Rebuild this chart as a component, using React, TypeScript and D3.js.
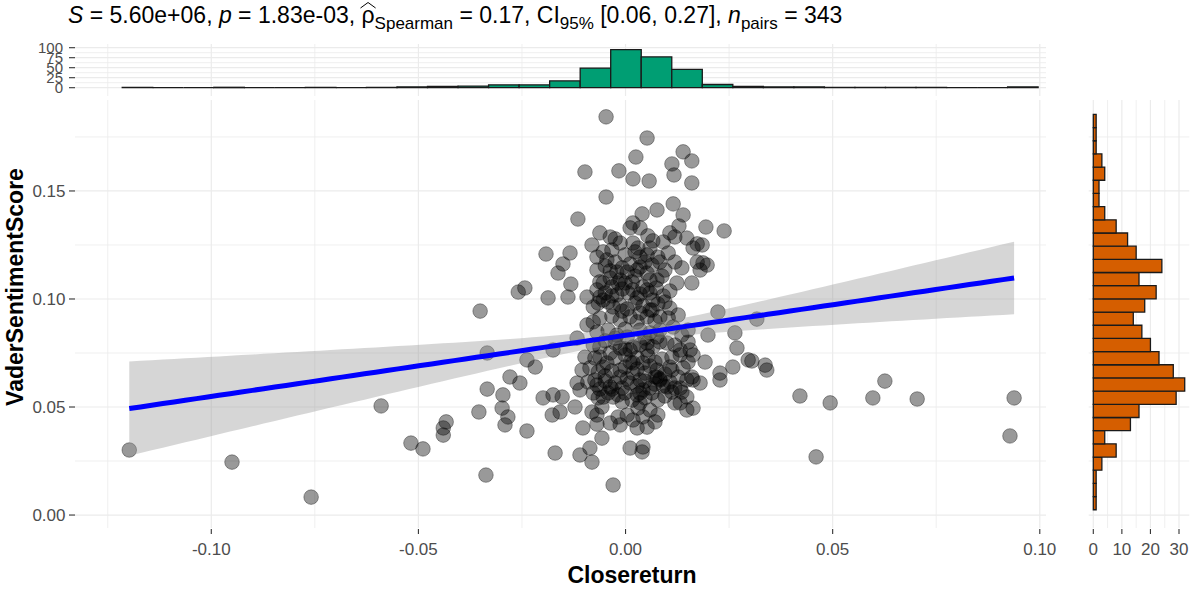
import React, { useLayoutEffect, useRef, useState } from "react";
import * as d3 from "d3";

// ---- data: [Closereturn, VaderSentimentScore] ----
const points: [number, number][] = [
  [-0.1198,0.0301],[-0.0950,0.0245],[-0.0759,0.0083],[-0.0590,0.0505],[-0.0518,0.0333],[-0.0489,0.0306],
  [-0.0440,0.0370],[-0.0440,0.0403],[-0.0433,0.0431],[-0.0354,0.0477],[-0.0334,0.0583],[-0.0337,0.0185],
  [-0.0334,0.0750],[-0.0351,0.0944],[-0.0296,0.0556],[-0.0298,0.0495],[-0.0284,0.0454],[-0.0291,0.0417],
  [-0.0279,0.0639],[-0.0255,0.0611],[-0.0238,0.0718],[-0.0218,0.0685],[-0.0238,0.0389],[-0.0199,0.0542],
  [-0.0175,0.0556],[-0.0153,0.0546],[-0.0177,0.0463],[-0.0158,0.0477],[-0.0122,0.0500],[-0.0110,0.0579],
  [-0.0103,0.0403],[-0.0081,0.0477],[-0.0057,0.0500],[-0.0069,0.0463],[-0.0037,0.0426],[-0.0018,0.0454],
  [0.0004,0.0463],[0.0030,0.0495],[0.0042,0.0454],[0.0052,0.0407],[0.0078,0.0463],[0.0035,0.0519],
  [-0.0057,0.0356],[-0.0086,0.0310],[-0.0110,0.0278],[-0.0081,0.0245],[-0.0170,0.0287],[0.0042,0.0315],
  [0.0040,0.0292],[-0.0030,0.0139],[0.0132,0.0519],[0.0148,0.0486],[0.0136,0.0569],[0.0100,0.0593],
  [0.0160,0.0639],[0.0192,0.0708],[0.0151,0.0801],[0.0199,0.0833],[0.0223,0.0940],[0.0264,0.0843],
  [0.0269,0.0773],[0.0259,0.0685],[0.0228,0.0657],[0.0228,0.0625],[0.0296,0.0718],[0.0107,0.0958],
  [0.0151,0.0856],[0.0132,0.0741],[0.0163,0.0741],[0.0064,0.0949],[0.0035,0.0935],[0.0076,0.1088],
  [0.0124,0.1074],[0.0160,0.1074],[-0.0001,0.1074],[-0.0033,0.1056],[-0.0054,0.0995],[-0.0093,0.0880],
  [-0.0117,0.0611],[-0.0074,0.0727],[-0.0045,0.0704],[-0.0013,0.0671],[0.0018,0.0704],[0.0035,0.0625],
  [0.0076,0.0671],[0.0083,0.0625],[0.0112,0.0731],[0.0148,0.0625],[0.0052,0.0796],[0.0018,0.0778],
  [-0.0013,0.0773],[-0.0037,0.0750],[-0.0062,0.0778],[0.0004,0.0824],[0.0035,0.0856],[0.0100,0.0796],
  [0.0115,0.0870],[0.0076,0.0824],[0.0136,0.0833],[0.0156,0.0764],[-0.0047,0.1843],[0.0052,0.1745],
  [0.0025,0.1657],[0.0139,0.1681],[0.0160,0.1639],[0.0112,0.1625],[0.0117,0.1574],[0.0160,0.1537],
  [-0.0098,0.1588],[-0.0016,0.1593],[0.0018,0.1556],[0.0057,0.1546],[-0.0047,0.1472],[-0.0115,0.1370],
  [0.0115,0.1440],[0.0076,0.1412],[0.0040,0.1394],[0.0139,0.1389],[0.0129,0.1338],[0.0194,0.1333],
  [0.0238,0.1315],[-0.0062,0.1306],[0.0011,0.1329],[0.0035,0.1329],[0.0018,0.1352],[-0.0192,0.1208],
  [-0.0134,0.1213],[-0.0151,0.1162],[-0.0163,0.1120],[-0.0132,0.1069],[-0.0243,0.1051],[-0.0259,0.1032],
  [-0.0081,0.1250],[-0.0037,0.1287],[-0.0013,0.1259],[0.0066,0.1269],[0.0107,0.1306],[0.0119,0.1287],
  [0.0148,0.1282],[0.0173,0.1255],[0.0163,0.1236],[0.0103,0.1213],[0.0083,0.1171],[0.0078,0.1194],
  [0.0136,0.1144],[0.0173,0.1171],[0.0197,0.1157],[0.0180,0.1134],[-0.0069,0.1194],[-0.0045,0.1181],
  [-0.0069,0.1134],[-0.0021,0.1125],[0.0004,0.1125],[0.0018,0.1259],[0.0030,0.1236],[0.0052,0.1204],
  [0.0035,0.1148],[0.0052,0.1120],[-0.0013,0.1088],[0.0016,0.1079],[0.0042,0.1056],[-0.0062,0.1079],
  [-0.0093,0.1009],[-0.0139,0.1009],[-0.0187,0.1005],[-0.0078,0.0894],[-0.0117,0.0819],[-0.0175,0.0764],
  [-0.0078,0.0963],[-0.0054,0.1074],[-0.0021,0.1019],[0.0028,0.1005],[0.0066,0.0995],[0.0052,0.1042],
  [-0.0030,0.0963],[0.0052,0.0917],[0.0083,0.0917],[-0.0098,0.0731],[-0.0105,0.0671],[-0.0001,0.0565],
  [0.0035,0.0565],[0.0076,0.0639],[0.0042,0.0704],[0.0052,0.0764],[0.0011,0.0764],[-0.0054,0.0685],
  [-0.0074,0.0625],[-0.0037,0.0593],[0.0132,0.0764],[0.0151,0.0708],[0.0163,0.0625],[0.0132,0.0588],
  [0.0148,0.0546],[0.0163,0.0495],[0.0119,0.0519],[0.0127,0.0639],[0.0107,0.0685],[0.0018,0.0657],
  [-0.0013,0.0639],[-0.0078,0.0565],[-0.0054,0.0546],[-0.0030,0.0546],[0.0317,0.0907],[0.0185,0.1250],
  [0.0187,0.1167],[0.0305,0.0713],[0.0337,0.0694],[0.0341,0.0671],[0.0180,0.0611],[0.0421,0.0551],
  [0.0494,0.0519],[0.0460,0.0269],[0.0597,0.0542],[0.0626,0.0620],[0.0704,0.0537],[0.0938,0.0542],
  [0.0928,0.0366],
  [-0.0025,0.1278],[0.0054,0.1292],[0.0091,0.1264],
  [-0.0033,0.1227],[-0.0001,0.1204],[0.0023,0.1218],[0.0059,0.1236],[0.0035,0.1194],[-0.0054,0.1218],
  [-0.0049,0.1153],[-0.0025,0.1171],[-0.0008,0.1144],[0.0011,0.1162],[0.0028,0.1134],[0.0064,0.1157],
  [0.0047,0.1171],[0.0095,0.1134],[-0.0037,0.1130],[0.0119,0.1171],
  [-0.0037,0.1097],[-0.0018,0.1074],[0.0023,0.1106],[0.0059,0.1088],[0.0088,0.1106],
  [-0.0069,0.1042],[-0.0049,0.1028],[-0.0033,0.1014],[-0.0008,0.1046],[0.0006,0.1028],[0.0018,0.1042],
  [0.0035,0.1023],[0.0059,0.1028],[0.0074,0.1051],[0.0091,0.1014],[0.0107,0.1037],[-0.0062,0.1009],
  [-0.0066,0.0981],[-0.0042,0.0986],[-0.0013,0.0972],[0.0004,0.0954],[0.0023,0.0981],[0.0042,0.0968],
  [0.0059,0.0949],[0.0078,0.0977],[0.0095,0.0986],[-0.0008,0.0944],
  [-0.0062,0.0912],[-0.0033,0.0921],[-0.0013,0.0903],[0.0011,0.0917],[0.0028,0.0894],[0.0071,0.0898],
  [0.0103,0.0912],[0.0127,0.0926],
  [-0.0069,0.0847],[-0.0042,0.0856],[-0.0021,0.0833],[-0.0001,0.0861],[0.0059,0.0843],[0.0083,0.0856],
  [0.0047,0.0819],[-0.0025,0.0819],
  [-0.0078,0.0787],[-0.0049,0.0806],[-0.0025,0.0796],[0.0035,0.0787],[0.0066,0.0778],[0.0083,0.0801],
  [0.0119,0.0787],[-0.0001,0.0769],
  [-0.0062,0.0731],[-0.0025,0.0727],[-0.0001,0.0741],[0.0028,0.0727],[0.0054,0.0736],[0.0071,0.0708],
  [0.0088,0.0722],[0.0011,0.0708],
  [-0.0086,0.0681],[-0.0066,0.0662],[-0.0033,0.0667],[-0.0001,0.0685],[0.0028,0.0676],[0.0047,0.0657],
  [0.0059,0.0690],[0.0095,0.0653],[0.0112,0.0671],[0.0139,0.0681],[-0.0049,0.0644],[0.0071,0.0639],
  [-0.0091,0.0616],[-0.0069,0.0602],[-0.0049,0.0620],[-0.0025,0.0611],[-0.0008,0.0588],[0.0011,0.0611],
  [0.0028,0.0597],[0.0047,0.0620],[0.0059,0.0588],[0.0071,0.0606],[0.0091,0.0597],[0.0107,0.0616],
  [0.0119,0.0588],[-0.0062,0.0583],[0.0004,0.0630],[0.0042,0.0579],[0.0083,0.0630],[-0.0033,0.0583],
  [-0.0066,0.0542],[-0.0042,0.0565],[-0.0018,0.0556],[0.0016,0.0532],[0.0028,0.0556],[0.0047,0.0542],
  [0.0064,0.0565],[0.0078,0.0532],[0.0095,0.0551],[0.0112,0.0569],[-0.0008,0.0523],
  [0.0059,0.0486],
  [-0.0013,0.0417],[0.0018,0.0440],[0.0071,0.0431],[0.0028,0.0403],[-0.0069,0.0421],
  [0.0011,0.0310],
];

// marginal histogram of Closereturn (30 bins, left to right)
const topHistStart = -0.1215;
const topHistBinWidth = 0.00737;
const topHistCounts = [1,0,0,1,0,0,1,0,1,2,3,4,7,7,17,49,95,77,46,8,3,2,2,1,1,1,1,0,0,2];

// marginal histogram of VaderSentimentScore (30 bins, bottom to top)
const rightHistStart = 0.00245;
const rightHistBinWidth = 0.0061;
const rightHistCounts = [1,1,1,3,8,4,13,16,29,32,28,23,20,17,14,18,22,16,24,15,12,8,4,2,2,4,3,1,1,1];

const xMajorTicks = [-0.1, -0.05, 0, 0.05, 0.1];
const xMinorTicks = [-0.125, -0.075, -0.025, 0.025, 0.075];
const yMajorTicks = [0, 0.05, 0.1, 0.15];
const yMinorTicks = [0.025, 0.075, 0.125, 0.175];
const topMajorTicks = [0, 25, 50, 75, 100];
const topMinorTicks = [12.5, 37.5, 62.5, 87.5];
const rightMajorTicks = [0, 10, 20, 30];
const rightMinorTicks = [5, 15, 25];

const xTitle = "Closereturn";
const yTitle = "VaderSentimentScore";

const FONT = "'Liberation Sans', Arial, sans-serif";
const GRID = "#EBEBEB";
const TICKTXT = "#4D4D4D";

const fmt2 = (v: number) => d3.format(".2f")(v).replace("\u2212", "-");

export default function App() {
  const W = 1192, H = 592;
  const panel = { l: 75, r: 1046, t: 100, b: 528 };
  const topPanel = { t: 44, b: 96 };
  const rightPanel = { l: 1088.7, r: 1189.3 };

  const x = d3.scaleLinear().domain([-0.1329, 0.1015]).range([panel.l, panel.r]);
  const y = d3.scaleLinear().domain([-0.006, 0.1921]).range([panel.b, panel.t]);
  const topY = d3.scaleLinear().domain([0, 100]).range([87.7, 47.7]);
  const rightX = d3.scaleLinear().domain([0, 30]).range([1093.3, 1179]);

  // linear fit + 95% CI
  const n = points.length;
  const mx = d3.mean(points, (d) => d[0]) as number;
  const my = d3.mean(points, (d) => d[1]) as number;
  const sxx = d3.sum(points, (d) => (d[0] - mx) ** 2);
  const sxy = d3.sum(points, (d) => (d[0] - mx) * (d[1] - my));
  const slope = sxy / sxx;
  const icpt = my - slope * mx;
  const s2 = d3.sum(points, (d) => (d[1] - icpt - slope * d[0]) ** 2) / (n - 2);
  const tq = 1.967;
  const [xmin, xmax] = d3.extent(points, (d) => d[0]) as [number, number];
  const grid = d3.range(80).map((i) => xmin + (i * (xmax - xmin)) / 79);
  const fit = grid.map((gx) => {
    const f = icpt + slope * gx;
    const se = Math.sqrt(s2 * (1 / n + (gx - mx) ** 2 / sxx));
    return { x: gx, f, lo: f - tq * se, hi: f + tq * se };
  });
  const area = d3.area<any>().x((d) => x(d.x)).y0((d) => y(d.lo)).y1((d) => y(d.hi));
  const line = d3.line<any>().x((d) => x(d.x)).y((d) => y(d.f));

  const titleRef = useRef<SVGTextElement>(null);
  const [hat, setHat] = useState<{ x: number; w: number } | null>(null);
  useLayoutEffect(() => {
    const t = titleRef.current;
    if (!t) return;
    const full = t.textContent || "";
    const idx = full.indexOf("ρ");
    if (idx < 0) return;
    try {
      const s = t.getStartPositionOfChar(idx);
      const e = t.getEndPositionOfChar(idx);
      setHat({ x: s.x, w: e.x - s.x });
    } catch (err) {}
  }, []);

  const tickLen = 5;

  return (
    <svg width={W} height={H} style={{ position: "absolute", left: 0, top: 0, background: "#fff" }} fontFamily={FONT}>
      <rect width={W} height={H} fill="#fff" />

      {/* title */}
      <text ref={titleRef} x={68} y={23} fontSize={23} fill="#000">
        <tspan fontStyle="italic">S</tspan>
        <tspan>{" = 5.60e+06, "}</tspan>
        <tspan fontStyle="italic">p</tspan>
        <tspan>{" = 1.83e-03, ρ"}</tspan>
        <tspan dy={6} fontSize={17}>Spearman</tspan>
        <tspan dy={-6}>{" = 0.17, CI"}</tspan>
        <tspan dy={6} fontSize={17}>95%</tspan>
        <tspan dy={-6}>{" [0.06, 0.27], "}</tspan>
        <tspan fontStyle="italic">n</tspan>
        <tspan dy={6} fontSize={17}>pairs</tspan>
        <tspan dy={-6}>{" = 343"}</tspan>
      </text>
      {hat && (
        <path
          d={`M${hat.x - 1},${8} L${hat.x + hat.w / 2},${2.5} L${hat.x + hat.w + 1},${8}`}
          fill="none"
          stroke="#000"
          strokeWidth={1}
        />
      )}

      {/* top marginal panel grid */}
      {topMinorTicks.map((v) => (
        <line key={"tmn" + v} x1={panel.l} x2={panel.r} y1={topY(v)} y2={topY(v)} stroke={GRID} strokeWidth={0.8} />
      ))}
      {topMajorTicks.map((v) => (
        <line key={"tmj" + v} x1={panel.l} x2={panel.r} y1={topY(v)} y2={topY(v)} stroke={GRID} strokeWidth={1.2} />
      ))}
      {xMinorTicks.map((v) => (
        <line key={"txm" + v} x1={x(v)} x2={x(v)} y1={topPanel.t} y2={topPanel.b} stroke={GRID} strokeWidth={0.8} />
      ))}
      {xMajorTicks.map((v) => (
        <line key={"txj" + v} x1={x(v)} x2={x(v)} y1={topPanel.t} y2={topPanel.b} stroke={GRID} strokeWidth={1.2} />
      ))}

      {/* main panel grid */}
      {yMinorTicks.map((v) => (
        <line key={"ymn" + v} x1={panel.l} x2={panel.r} y1={y(v)} y2={y(v)} stroke={GRID} strokeWidth={0.8} />
      ))}
      {yMajorTicks.map((v) => (
        <line key={"ymj" + v} x1={panel.l} x2={panel.r} y1={y(v)} y2={y(v)} stroke={GRID} strokeWidth={1.2} />
      ))}
      {xMinorTicks.map((v) => (
        <line key={"xmn" + v} x1={x(v)} x2={x(v)} y1={panel.t} y2={panel.b} stroke={GRID} strokeWidth={0.8} />
      ))}
      {xMajorTicks.map((v) => (
        <line key={"xmj" + v} x1={x(v)} x2={x(v)} y1={panel.t} y2={panel.b} stroke={GRID} strokeWidth={1.2} />
      ))}

      {/* right marginal panel grid */}
      {yMinorTicks.map((v) => (
        <line key={"rymn" + v} x1={rightPanel.l} x2={rightPanel.r} y1={y(v)} y2={y(v)} stroke={GRID} strokeWidth={0.8} />
      ))}
      {yMajorTicks.map((v) => (
        <line key={"rymj" + v} x1={rightPanel.l} x2={rightPanel.r} y1={y(v)} y2={y(v)} stroke={GRID} strokeWidth={1.2} />
      ))}
      {rightMinorTicks.map((v) => (
        <line key={"rxmn" + v} x1={rightX(v)} x2={rightX(v)} y1={panel.t} y2={panel.b} stroke={GRID} strokeWidth={0.8} />
      ))}
      {rightMajorTicks.map((v) => (
        <line key={"rxmj" + v} x1={rightX(v)} x2={rightX(v)} y1={panel.t} y2={panel.b} stroke={GRID} strokeWidth={1.2} />
      ))}

      {/* top histogram */}
      {topHistCounts.map((c, i) => {
        const x0 = x(topHistStart + i * topHistBinWidth);
        const x1 = x(topHistStart + (i + 1) * topHistBinWidth);
        const y0 = topY(0);
        const y1 = topY(c);
        return (
          <path key={"th" + i} d={`M${x0},${y0}H${x1}V${y1}H${x0}Z`} fill="#009E73" stroke="#1A1A1A" strokeWidth={1.3} />
        );
      })}

      {/* right histogram */}
      {rightHistCounts.map((c, i) => {
        const y0 = y(rightHistStart + i * rightHistBinWidth);
        const y1 = y(rightHistStart + (i + 1) * rightHistBinWidth);
        const x0 = rightX(0);
        const x1 = rightX(c);
        return (
          <path key={"rh" + i} d={`M${x0},${y0}V${y1}H${x1}V${y0}Z`} fill="#D55E00" stroke="#1A1A1A" strokeWidth={1.3} />
        );
      })}

      {/* points */}
      {points.map((p, i) => (
        <circle key={"pt" + i} cx={x(p[0])} cy={y(p[1])} r={7.3} fill="rgba(0,0,0,0.4)" stroke="rgba(0,0,0,0.35)" strokeWidth={1} />
      ))}

      {/* smooth */}
      <path d={area(fit) || ""} fill="#999999" fillOpacity={0.4} />
      <path d={line(fit) || ""} fill="none" stroke="#0000FF" strokeWidth={5} />

      {/* axes: main y */}
      {yMajorTicks.map((v) => (
        <g key={"yt" + v}>
          <line x1={panel.l - 6} x2={panel.l} y1={y(v)} y2={y(v)} stroke="#333" strokeWidth={1.1} />
          <text x={panel.l - 9.5} y={y(v)} dy="0.36em" textAnchor="end" fontSize={17} fill={TICKTXT}>
            {fmt2(v)}
          </text>
        </g>
      ))}
      {/* top hist y */}
      {topMajorTicks.map((v) => (
        <g key={"tyt" + v}>
          <line x1={panel.l - 6} x2={panel.l} y1={topY(v)} y2={topY(v)} stroke="#333" strokeWidth={1.1} />
          <text x={panel.l - 12} y={topY(v)} dy="0.36em" textAnchor="end" fontSize={15} fill={TICKTXT}>
            {String(v)}
          </text>
        </g>
      ))}
      {/* main x */}
      {xMajorTicks.map((v) => (
        <g key={"xt" + v}>
          <line x1={x(v)} x2={x(v)} y1={panel.b + 1} y2={panel.b + 1 + tickLen} stroke="#333" strokeWidth={1.1} />
          <text x={x(v)} y={555} textAnchor="middle" fontSize={17} fill={TICKTXT}>
            {fmt2(v)}
          </text>
        </g>
      ))}
      {/* right hist x */}
      {rightMajorTicks.map((v) => (
        <g key={"rxt" + v}>
          <line x1={rightX(v)} x2={rightX(v)} y1={panel.b + 1} y2={panel.b + 1 + tickLen} stroke="#333" strokeWidth={1.1} />
          <text x={rightX(v)} y={555} textAnchor="middle" fontSize={17} fill={TICKTXT}>
            {String(v)}
          </text>
        </g>
      ))}

      {/* axis titles */}
      <text x={632} y={583} textAnchor="middle" fontSize={23} fontWeight="bold" fill="#000">
        {xTitle}
      </text>
      <text transform="translate(23,287) rotate(-90)" textAnchor="middle" fontSize={23} fontWeight="bold" fill="#000">
        {yTitle}
      </text>
    </svg>
  );
}
